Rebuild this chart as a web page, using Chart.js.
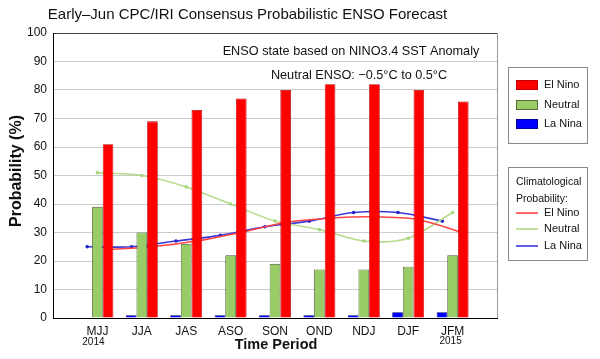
<!DOCTYPE html>
<html><head><meta charset="utf-8">
<script src="https://cdn.jsdelivr.net/npm/chart.js@4.4.0/dist/chart.umd.min.js"></script>
<style>html,body{margin:0;padding:0;background:#fff}canvas{display:block}</style>
</head><body>
<canvas id="c" width="600" height="359"></canvas>
<script>
const periods = ['MJJ','JJA','JAS','ASO','SON','OND','NDJ','DJF','JFM'];
const elNino = [61,69,73,77,80,82,82,80,76];
const neutral = [39,30,26,22,19,17,17,18,22];
const laNina = [0,1,1,1,1,1,1,2,2];
const climElNino = [24,25,27,30,33.5,35,35.5,34.5,30];
const climNeutral = [51,50,46,40,34,31,27,28,37];
const climLaNina = [25,25,27,29,32,34,37,37,34];
const yTicks = [0,10,20,30,40,50,60,70,80,90,100];
const FONT = "'Liberation Sans', Arial, sans-serif";
const OFF = 0.23;

const pts = (arr, d) => arr.map((v,i)=>({x:i+1+d, y:v}));

const overlay = {
  id:'overlay',
  afterDraw(chart){
    const ctx = chart.ctx, a = chart.chartArea, xs = chart.scales.x;
    ctx.save();
    ctx.strokeStyle = '#999'; ctx.lineWidth = 1;
    ctx.beginPath(); ctx.moveTo(Math.round(a.right)+0.5, a.top); ctx.lineTo(Math.round(a.right)+0.5, a.bottom); ctx.stroke();
    ctx.fillStyle = '#111'; ctx.textBaseline = 'middle';
    ctx.font = '15px ' + FONT; ctx.textAlign = 'center';
    ctx.fillText('Early\u2013Jun CPC/IRI Consensus Probabilistic ENSO Forecast', 247.5, 15);
    ctx.font = '12.7px ' + FONT;
    ctx.fillText('ENSO state based on NINO3.4 SST Anomaly', 351, 51);
    ctx.fillText('Neutral ENSO: \u22120.5\u00B0C to 0.5\u00B0C', 359, 75);
    ctx.font = 'bold 14.5px ' + FONT;
    ctx.fillText('Time Period', 276, 345);
    ctx.save(); ctx.translate(17, 171); ctx.rotate(-Math.PI/2);
    ctx.font = 'bold 16px ' + FONT; ctx.fillText('Probability (%)', 0, 0); ctx.restore();
    ctx.font = '10px ' + FONT;
    ctx.fillText('2014', xs.getPixelForValue(1)-4, 342);
    ctx.fillText('2015', xs.getPixelForValue(9)-2, 341);
    ctx.strokeStyle = '#888'; ctx.lineWidth = 1;
    ctx.strokeRect(508.5, 67.5, 79, 76);
    const sw = [['El Nino','#ff0000','#b00000',85],['Neutral','#99cc66','#445533',105],['La Nina','#0000ff','#000080',124]];
    ctx.textAlign = 'left'; ctx.font = '11px ' + FONT;
    sw.forEach(s=>{
      ctx.fillStyle = s[1]; ctx.fillRect(516, s[3]-5, 22, 10);
      ctx.strokeStyle = s[2]; ctx.lineWidth = 0.8; ctx.strokeRect(516.5, s[3]-4.5, 21, 9);
      ctx.fillStyle = '#111'; ctx.fillText(s[0], 544, s[3]);
    });
    ctx.strokeStyle = '#888'; ctx.lineWidth = 1;
    ctx.strokeRect(508.5, 167.5, 79, 93);
    ctx.fillStyle = '#111';
    ctx.font = '10.5px ' + FONT;
    ctx.fillText('Climatological', 516, 182);
    ctx.fillText('Probability:', 516, 199);
    ctx.font = '11px ' + FONT;
    const ln = [['El Nino','#ff4444',213],['Neutral','#b4dc8c',229],['La Nina','#3a3ad8',246]];
    ln.forEach(s=>{
      ctx.strokeStyle = s[1]; ctx.lineWidth = 1.6;
      ctx.beginPath(); ctx.moveTo(516, s[2]); ctx.lineTo(538, s[2]); ctx.stroke();
      ctx.fillStyle = '#111'; ctx.fillText(s[0], 544, s[2]);
    });
    ctx.restore();
  }
};

new Chart(document.getElementById('c'), {
  data: {
    datasets: [
      {type:'bar', label:'La Nina', data: pts(laNina,0).map(p=>({x:p.x,y:p.y||null})), backgroundColor:'#0000ff', borderColor:'#000080', borderWidth:0.8, order:1},
      {type:'bar', label:'Neutral', data: pts(neutral,0), backgroundColor:'#99cc66', borderColor:'#445533', borderWidth:0.8, order:1},
      {type:'bar', label:'El Nino', data: pts(elNino,0), backgroundColor:'#ff0000', borderColor:'#b00000', borderWidth:0.8, order:1},
      {type:'line', label:'Clim El Nino', data: pts(climElNino,OFF), borderColor:'#ff4444', borderWidth:1.6, pointRadius:0, tension:0.3, order:2},
      {type:'line', label:'Clim Neutral', data: pts(climNeutral,0), borderColor:'#b4dc8c', backgroundColor:'#a8d480', borderWidth:1.6, pointRadius:1.8, pointBorderWidth:0, tension:0.3, order:2},
      {type:'line', label:'Clim La Nina', data: pts(climLaNina,-OFF), borderColor:'#3a3ad8', backgroundColor:'#2222cc', borderWidth:1.6, pointRadius:1.8, pointBorderWidth:0, tension:0.3, order:2}
    ]
  },
  options: {
    responsive:false, animation:false, devicePixelRatio:1,
    layout:{padding:{top:33, right:103, left:0, bottom:0}},
    plugins:{legend:{display:false}, tooltip:{enabled:false}},
    datasets:{bar:{grouped:true, barPercentage:1.0, categoryPercentage:0.72}},
    scales:{
      x:{type:'linear', min:0, max:10, offset:false,
        grid:{display:false, drawTicks:false, offset:false},
        border:{color:'#000', width:1},
        afterFit(s){ s.height = 41; },
        afterBuildTicks(s){ s.ticks = [1,2,3,4,5,6,7,8,9].map(v=>({value:v})); },
        ticks:{autoSkip:false, maxRotation:0, padding:6, color:'#111', font:{family:FONT, size:12},
          callback:(v)=>periods[v-1] || ''}
      },
      y:{min:0, max:100,
        afterBuildTicks(s){ s.ticks = yTicks.map(v=>({value:v})); },
        grid:{drawTicks:false, color:(c)=> c.tick && c.tick.value===100 ? '#444' : '#cccccc', lineWidth:1},
        border:{color:'#000', width:1},
        afterFit(s){ s.width = 53; },
        ticks:{padding:6, color:'#111', font:{family:FONT, size:12}}
      }
    }
  },
  plugins:[overlay]
});
</script>
</body></html>
